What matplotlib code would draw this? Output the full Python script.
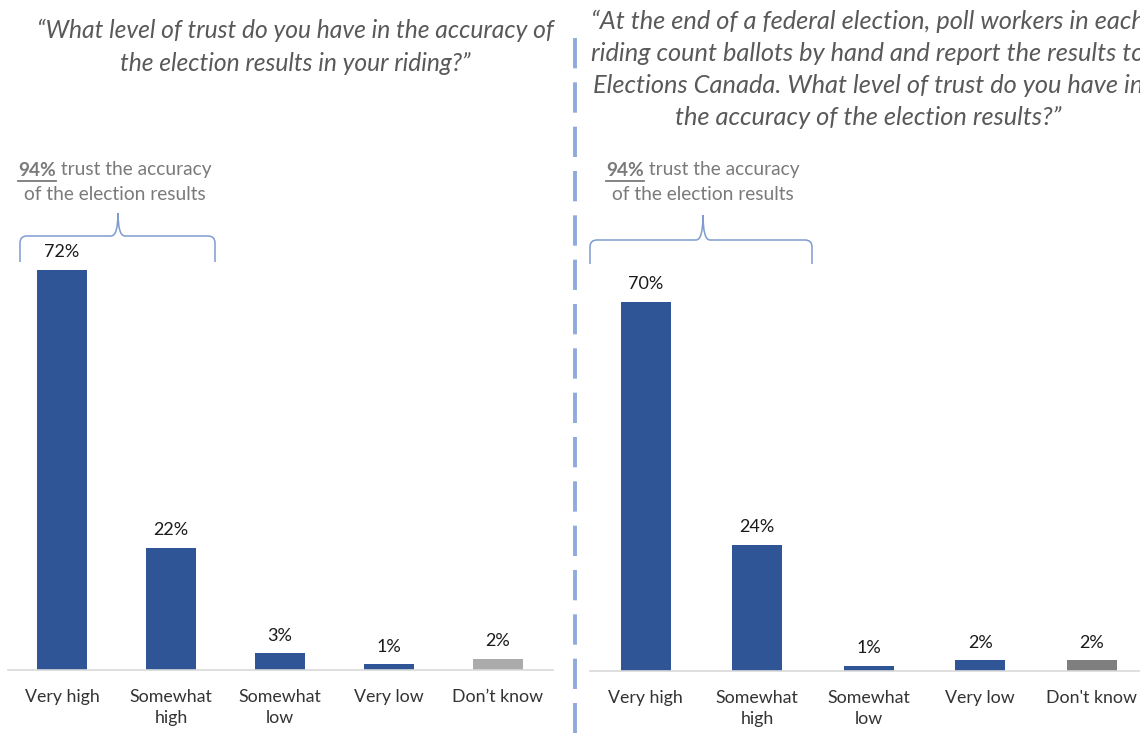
import matplotlib.pyplot as plt
from matplotlib.path import Path
from matplotlib.patches import PathPatch
from matplotlib.lines import Line2D

categories = ["Very high", "Somewhat\nhigh", "Somewhat\nlow", "Very low"]
left_dk_label = "Don\u2019t know"
right_dk_label = "Don't know"
left_values = [72, 22, 3, 1, 2]
right_values = [70, 24, 1, 2, 2]

left_title = ("\u201cWhat level of trust do you have in the accuracy of\n"
              "the election results in your riding?\u201d")
right_title = ("\u201cAt the end of a federal election, poll workers in each\n"
               "riding count ballots by hand and report the results to\n"
               "Elections Canada. What level of trust do you have in\n"
               "the accuracy of the election results?\u201d")

BLUE = "#2F5597"
FONT = "Lato"
W, H = 1140, 733

plt.rcParams["font.family"] = [FONT, "DejaVu Sans"]

fig = plt.figure(figsize=(W / 100, H / 100), dpi=100)


def fx(x):
    return x / W


def fy(y):
    return 1 - y / H


def make_panel(x0, x1, base, top, values, dk_label, dk_color):
    ax = fig.add_axes([fx(x0), fy(base), fx(x1) - fx(x0), fy(top) - fy(base)])
    xs = range(len(values))
    colors = [BLUE] * 4 + [dk_color]
    ax.bar(xs, values, width=0.45, color=colors)
    for x, v in zip(xs, values):
        ax.annotate(f"{v}%", (x, v), xytext=(0, 7), textcoords="offset points",
                    ha="center", va="bottom", fontsize=13, color="#1a1a1a")
    ax.set_xlim(-0.5, len(values) - 0.5)
    ax.set_ylim(0, 80)
    ax.set_xticks(list(xs))
    ax.set_xticklabels(categories + [dk_label], fontsize=12.8, color="#333333",
                       linespacing=1.35)
    ax.tick_params(axis="x", length=0, pad=14)
    ax.set_yticks([])
    for s in ["top", "right", "left"]:
        ax.spines[s].set_visible(False)
    ax.spines["bottom"].set_color("#d9d9d9")
    ax.spines["bottom"].set_linewidth(1.2)
    return ax


make_panel(7.5, 552.5, 670, 225, left_values, left_dk_label, "#ABABAB")
make_panel(590, 1147.5, 671, 249.5, right_values, right_dk_label, "#7F7F7F")

# question titles
fig.text(fx(295), fy(47), left_title, ha="center", va="center", fontsize=17.7,
         style="italic", color="#595959", linespacing=1.5)
fig.text(fx(868), fy(69.5), right_title, ha="center", va="center", fontsize=18.3,
         style="italic", color="#595959", linespacing=1.48)

# dashed divider between the two questions
fig.add_artist(Line2D([fx(575), fx(575)], [fy(38), fy(733)], color="#8FAADC",
                      lw=2.8, linestyle=(0, (7.8, 3.6))))


def brace(xl, xr, xm, y_line, y_tip, y_end):
    r = 7
    verts = [(xl, y_end), (xl, y_line + r), (xl, y_line), (xl + r, y_line),
             (xm - r, y_line), (xm, y_line), (xm, y_tip),
             (xm, y_line), (xm + r, y_line),
             (xr - r, y_line), (xr, y_line), (xr, y_line + r), (xr, y_end)]
    codes = [Path.MOVETO, Path.LINETO, Path.CURVE3, Path.CURVE3,
             Path.LINETO, Path.CURVE3, Path.CURVE3,
             Path.CURVE3, Path.CURVE3,
             Path.LINETO, Path.CURVE3, Path.CURVE3, Path.LINETO]
    verts = [(fx(x), fy(y)) for x, y in verts]
    fig.add_artist(PathPatch(Path(verts, codes), transform=fig.transFigure,
                             fill=False, edgecolor="#7F9BD0", lw=1.1))


def trust_note(xc, values):
    total = values[0] + values[1]
    renderer = fig.canvas.get_renderer()
    bold = fig.text(0, 0, f"{total}%", fontsize=13.8, weight="bold", color="#7a7a7a")
    rest = fig.text(0, 0, " trust the accuracy", fontsize=13.8, color="#7a7a7a")
    wb = bold.get_window_extent(renderer).width
    wr = rest.get_window_extent(renderer).width
    x0 = xc - (wb + wr) / 2
    y1 = 170
    bold.set_position((fx(x0), fy(y1)))
    bold.set_va("center")
    rest.set_position((fx(x0 + wb), fy(y1)))
    rest.set_va("center")
    fig.add_artist(Line2D([fx(x0), fx(x0 + wb)], [fy(y1 + 11), fy(y1 + 11)],
                          color="#7a7a7a", lw=1.3))
    fig.text(fx(xc), fy(195), "of the election results", ha="center", va="center",
             fontsize=13.8, color="#7a7a7a")


brace(20, 215, 118, 236, 213, 262)
trust_note(115, left_values)
brace(590, 812, 703, 240, 215, 264)
trust_note(703, right_values)

fig.savefig("out.png", dpi=100, facecolor="white")
